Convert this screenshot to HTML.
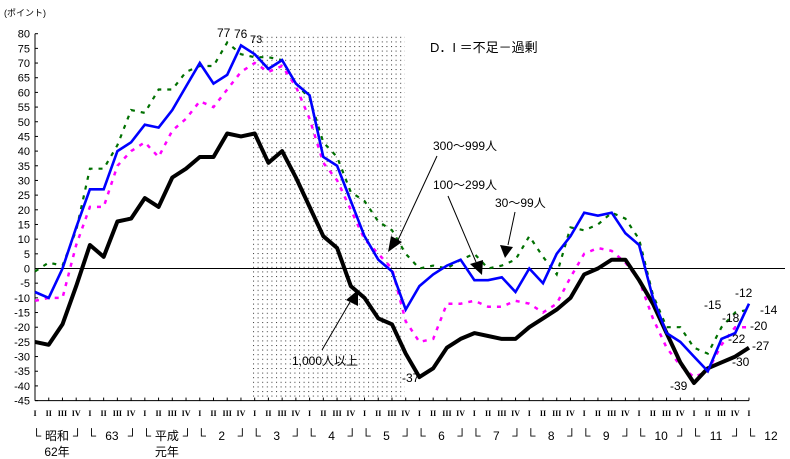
<!DOCTYPE html>
<html><head><meta charset="utf-8">
<style>
html,body{margin:0;padding:0;background:#fff;}
svg{display:block;font-family:"Liberation Sans","Noto Sans CJK JP",sans-serif;}
</style></head>
<body>
<svg id="chart" width="790" height="459" viewBox="0 0 790 459" xmlns="http://www.w3.org/2000/svg">
<defs>
<pattern id="dots" width="4.6" height="4.6" patternUnits="userSpaceOnUse">
<rect x="0" y="0" width="1" height="1" fill="#333"/>
</pattern>
</defs>
<rect x="253" y="34" width="152" height="366" fill="url(#dots)"/>
<text x="4" y="16" font-size="9">(ポイント)</text>
<text x="430" y="52" font-size="13">D．I ＝不足－過剰</text>
<g id="axes"></g>
<g id="series"></g>
<g id="annot" font-size="12">
  <text x="433" y="150">300～999人</text>
  <text x="433" y="189">100～299人</text>
  <text x="495" y="207">30～99人</text>
  <text x="292" y="365">1,000人以上</text>
  <line x1="437" y1="156" x2="398" y2="240" stroke="#000" stroke-width="1"/>
  <polygon points="388,252 391,236 402,242" fill="#000"/>
  <line x1="448" y1="196" x2="476" y2="262" stroke="#000" stroke-width="1"/>
  <polygon points="482,275 470,264 483,260" fill="#000"/>
  <line x1="515" y1="212" x2="508" y2="245" stroke="#000" stroke-width="1"/>
  <polygon points="505,258 500,245 513,247" fill="#000"/>
  <line x1="322" y1="350" x2="350" y2="302" stroke="#000" stroke-width="1"/>
  <polygon points="358,290 358,306 346,300" fill="#000"/>
  <text x="217" y="37">77</text>
  <text x="234" y="38">76</text>
  <text x="250" y="43" font-size="11">73</text>
  <text x="402" y="382">-37</text>
  <text x="670" y="390">-39</text>
  <text x="704" y="309">-15</text>
  <text x="735" y="297">-12</text>
  <text x="760" y="314">-14</text>
  <text x="722" y="322">-18</text>
  <text x="750" y="330">-20</text>
  <text x="728" y="343">-22</text>
  <text x="752" y="350">-27</text>
  <text x="732" y="366">-30</text>
</g>
</svg>
<script>
const yTicks = [80,75,70,65,60,55,50,45,40,35,30,25,20,15,10,5,0,-5,-10,-15,-20,-25,-30,-35,-40,-45];
const quarterLabels = ["I","II","III","IV"];
const yearLabels = ["昭和","63","平成","2","3","4","5","6","7","8","9","10","11","12"];
const yearSub = ["62年","","元年","","","","","","","","","","",""];
const black = [-25,-26,-19,-6,8,4,16,17,24,21,31,34,38,38,46,45,46,36,40,31,21,11,7,-6,-10,-17,-19,-29,-37,-34,-27,-24,-22,-23,-24,-24,-20,-17,-14,-10,-2,0,3,3,-4,-12,-22,-32,-39,-34,-32,-30,-27];
const blue = [-8,-10,0,14,27,27,40,43,49,48,54,62,70,63,66,76,73,68,71,63,59,38,35,23,11,3,-1,-14,-6,-2,1,3,-4,-4,-3,-8,0,-5,5,11,19,18,19,12,8,-10,-22,-25,-30,-35,-24,-22,-12];
const green = [-1,2,1,13,34,34,42,54,53,61,61,67,69,69,77,73,72,72,71,63,58,43,38,26,23,16,13,5,0,1,0,3,5,0,1,3,11,4,-2,14,13,15,19,17,10,-9,-20,-20,-27,-29,-20,-15,-14];
const magenta = [-11,-10,-10,8,21,21,35,40,43,38,47,51,57,55,61,67,70,67,69,62,51,36,30,20,10,5,0,-18,-25,-24,-12,-12,-11,-13,-13,-11,-12,-15,-12,-3,5,7,6,2,-4,-17,-27,-33,-37,-35,-26,-20,-20];

const NS = "http://www.w3.org/2000/svg";
const X0 = 35, DX = 13.73, Y0 = 268.5, SY = 2.935;
function xq(i){ return X0 + i*DX; }
function yv(v){ return Y0 - v*SY; }
function mk(tag, attrs, parent){
  const e = document.createElementNS(NS, tag);
  for (const k in attrs) e.setAttribute(k, attrs[k]);
  parent.appendChild(e); return e;
}
const axes = document.getElementById("axes");
const yaxis = mk("line",{x1:X0,y1:yv(80),x2:X0,y2:yv(-45),stroke:"#000","stroke-width":1},axes);


yTicks.forEach(v=>{
  const t = mk("line",{x1:X0,y1:yv(v),x2:X0+3,y2:yv(v),stroke:"#000"},axes);
  
  
  const l = mk("text",{x:30,y:yv(v)+4,"font-size":11,"text-anchor":"end"},axes);
  l.textContent = v;
  
  
});
const xaxis = mk("line",{x1:X0,y1:yv(-45),x2:xq(52),y2:yv(-45),stroke:"#000"},axes);


const zero = mk("line",{x1:X0,y1:yv(0),x2:785,y2:yv(0),stroke:"#000"},axes);


for(let i=0;i<=52;i++){
  const t = mk("line",{x1:xq(i),y1:yv(-45),x2:xq(i),y2:yv(-45)-3,stroke:"#000"},axes);
  
  
  const q = mk("text",{x:xq(i),y:416,"font-size":8,"text-anchor":"middle","font-family":"Liberation Serif, serif","font-weight":"bold"},axes);
  q.textContent = quarterLabels[i%4];
  
  
}
yearLabels.forEach((lab,k)=>{
  const xs = xq(k*4);
  const b1 = mk("text",{x:xs-3,y:440,"font-size":13},axes);
  b1.textContent = "└";
  
  
  const t = mk("text",{x:xs+22,y:440,"font-size":12,"text-anchor":"middle"},axes);
  t.textContent = lab;
  
  
  if(k<13){
    const b2 = mk("text",{x:xs+38,y:440,"font-size":13},axes);
    b2.textContent = "┘";
    
    
  }
  if(yearSub[k]){
    const s = mk("text",{x:xs+22,y:456,"font-size":12,"text-anchor":"middle"},axes);
    s.textContent = yearSub[k];
    
    
  }
});
const series = document.getElementById("series");
function pts(arr){ return arr.map((v,i)=>xq(i).toFixed(1)+","+yv(v).toFixed(1)).join(" "); }
const gLine = mk("polyline",{points:pts(green),fill:"none",stroke:"#007000","stroke-width":2.2,"stroke-dasharray":"4 6"},series);


const mLine = mk("polyline",{points:pts(magenta),fill:"none",stroke:"#ff00ff","stroke-width":2.5,"stroke-dasharray":"4 6"},series);


const kLine = mk("polyline",{points:pts(black),fill:"none",stroke:"#000","stroke-width":4,"stroke-linejoin":"round"},series);


const bLine = mk("polyline",{points:pts(blue),fill:"none",stroke:"#0000ff","stroke-width":2.6},series);


</script>
</body></html>
